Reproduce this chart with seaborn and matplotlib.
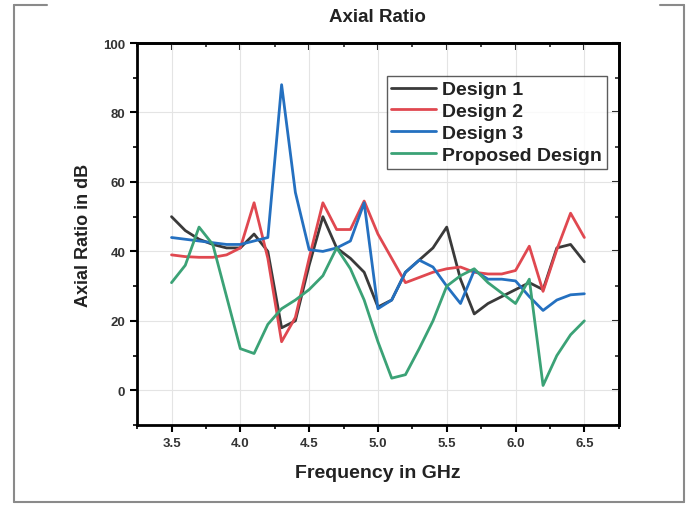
import numpy as np
import pandas as pd
import matplotlib
matplotlib.use("Agg")
import matplotlib.pyplot as plt
from matplotlib.lines import Line2D
from matplotlib.ticker import MultipleLocator
import seaborn as sns

# Frequency sweep (GHz)
freq = [3.5, 3.6, 3.7, 3.8, 3.9, 4.0, 4.1, 4.2, 4.3, 4.4, 4.5,
        4.6, 4.7, 4.8, 4.9, 5.0, 5.1, 5.2, 5.3, 5.4, 5.5,
        5.6, 5.7, 5.8, 5.9, 6.0, 6.1, 6.2, 6.3, 6.4, 6.5]

# Axial ratio values in dB
design_1 = [50, 46, 43.5, 42, 41, 41, 45, 40, 18, 20, 36,
            50, 41, 38, 34, 24, 26, 34, 37.5, 41, 47,
            32, 22, 25, 27, 29, 31, 29, 41, 42, 37]
design_2 = [39, 38.5, 38.3, 38.3, 39, 41, 54, 38, 14, 21, 38,
            54, 46.3, 46.3, 54.5, 45, 38, 31, 32.5, 34, 35,
            35.5, 34, 33.5, 33.5, 34.5, 41.5, 28.5, 40.5, 51, 44]
design_3 = [44, 43.5, 43, 42.5, 42, 42, 43, 44, 88, 57, 40.5,
            40, 41, 43, 54, 23.5, 26, 34, 37.5, 35.5, 30,
            25, 34.5, 32, 32, 31.5, 27, 23, 26, 27.5, 27.8]
proposed = [31, 36, 47, 42, 27, 12, 10.6, 19, 23.5, 26, 29,
            33, 41, 35, 26, 14, 3.5, 4.5, 12, 20, 30,
            33, 35, 31, 28, 25, 32, 1.4, 10, 16, 20]

series_names = ["Design 1", "Design 2", "Design 3", "Proposed Design"]
colors = ["#3a3a3a", "#e04850", "#2470c0", "#3ba276"]

df = pd.concat(
    [pd.DataFrame({"Frequency": freq, "AR": vals, "Series": name})
     for name, vals in zip(series_names, [design_1, design_2, design_3, proposed])],
    ignore_index=True,
)

sns.set_style("white")
plt.rcParams["font.family"] = ["Liberation Sans", "DejaVu Sans"]

fig = plt.figure(figsize=(6.96, 5.06), dpi=100)
ax = fig.add_axes([0.197, 0.158, 0.692, 0.755])

sns.lineplot(data=df, x="Frequency", y="AR", hue="Series",
             palette=dict(zip(series_names, colors)), linewidth=2.0, ax=ax)

ax.set_xlim(3.25, 6.75)
ax.set_ylim(-10, 100)
ax.xaxis.set_major_locator(MultipleLocator(0.5))
ax.xaxis.set_minor_locator(MultipleLocator(0.25))
ax.yaxis.set_major_locator(MultipleLocator(20))
ax.yaxis.set_minor_locator(MultipleLocator(10))
ax.set_xticks(np.arange(3.5, 6.51, 0.5))
ax.set_xticklabels(["3.5", "4.0", "4.5", "5.0", "5.5", "6.0", "6.5"])

ax.grid(True, which="major", color="#e4e4e4", linewidth=0.8)
for s in ax.spines.values():
    s.set_linewidth(2.0)
    s.set_color("black")

ax.tick_params(axis="both", which="both", bottom=True, left=True)
ax.tick_params(axis="both", which="major", direction="out", length=5, width=1.5,
               labelsize=9.5, labelcolor="#333333", color="black")
ax.tick_params(axis="both", which="minor", direction="out", length=3, width=1.2, color="black")
# mirrored ticks on top/right pointing inward
sec_x = ax.secondary_xaxis("top")
sec_x.xaxis.set_major_locator(MultipleLocator(0.5))
sec_x.xaxis.set_minor_locator(MultipleLocator(0.25))
sec_x.tick_params(which="both", top=True)
sec_x.tick_params(which="major", direction="in", length=5, width=1.5, labeltop=False)
sec_x.tick_params(which="minor", direction="in", length=3, width=1.2)
sec_x.spines["top"].set_linewidth(2.0)
sec_y = ax.secondary_yaxis("right")
sec_y.yaxis.set_major_locator(MultipleLocator(20))
sec_y.yaxis.set_minor_locator(MultipleLocator(10))
sec_y.tick_params(which="both", right=True)
sec_y.tick_params(which="major", direction="in", length=5, width=1.5, labelright=False)
sec_y.tick_params(which="minor", direction="in", length=3, width=1.2)
sec_y.spines["right"].set_linewidth(2.0)

for lab in ax.get_xticklabels() + ax.get_yticklabels():
    lab.set_fontweight("bold")

ax.set_xlabel("Frequency in GHz", fontsize=14, fontweight="bold", labelpad=11, color="#222222")
ax.set_ylabel("Axial Ratio in dB", fontsize=13, fontweight="bold", labelpad=8, color="#222222")
ax.set_title("Axial Ratio", fontsize=13.5, fontweight="bold", pad=16, color="#222222")

leg = ax.legend(loc="upper right", bbox_to_anchor=(0.975, 0.914), frameon=True,
                fancybox=False, handlelength=2.3, handletextpad=0.3,
                borderpad=0.25, labelspacing=0.22, borderaxespad=0.0,
                prop={"weight": "bold", "size": 14})
leg.get_frame().set_edgecolor("#333333")
leg.get_frame().set_linewidth(1.0)
for t in leg.get_texts():
    t.set_color("#222222")

# outer frame of the picture
frame_color = "#8a8a8a"
W, H = 696.0, 506.0
segs = [((14, 503), (14, 6)), ((14, 503), (684, 503)), ((684, 503), (684, 6)),
        ((14, 6), (47, 6)), ((660, 6), (684, 6))]
for (x0, y0), (x1, y1) in segs:
    fig.add_artist(Line2D([x0 / W, x1 / W], [1 - y0 / H, 1 - y1 / H],
                          color=frame_color, linewidth=1.5))

fig.savefig("out.png", dpi=100)
